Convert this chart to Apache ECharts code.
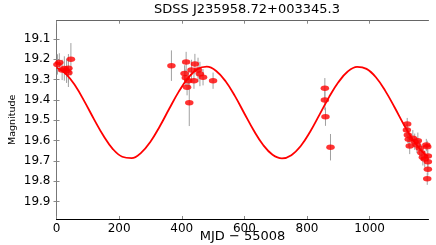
<!DOCTYPE html>
<html>
<head>
<meta charset="utf-8">
<script src="https://cdn.jsdelivr.net/npm/echarts@6/dist/echarts.min.js"></script>
<style>html,body{margin:0;padding:0;background:#fff;}#c{width:436px;height:245px;}</style>
</head>
<body>
<div id="c"></div>
<script>
// Observations
const obsMjd = [3, 9, 18, 25, 32, 38, 38, 46,
  367, 409, 413, 414, 417, 421, 424, 431, 439, 442, 452, 458, 468, 500,
  857, 857, 859, 875,
  1120, 1119, 1122, 1125, 1128, 1138, 1144, 1151, 1154, 1160, 1165, 1170, 1176, 1181, 1184, 1186, 1186, 1186, 1184];
const obsMag = [19.225, 19.215, 19.252, 19.245, 19.256, 19.244, 19.266, 19.200,
  19.231, 19.269, 19.290, 19.213, 19.337, 19.305, 19.413, 19.252, 19.305, 19.223, 19.252, 19.272, 19.288, 19.305,
  19.342, 19.400, 19.482, 19.632,
  19.518, 19.547, 19.572, 19.593, 19.626, 19.588, 19.605, 19.621, 19.600, 19.637, 19.659, 19.682, 19.690, 19.621, 19.630, 19.675, 19.703, 19.741, 19.787];
const obsErr = [0.05, 0.045, 0.05, 0.06, 0.06, 0.07, 0.07, 0.08,
  0.075, 0.04, 0.04, 0.05, 0.04, 0.045, 0.115, 0.05, 0.04, 0.05, 0.06, 0.06, 0.04, 0.04,
  0.05, 0.05, 0.045, 0.065,
  0.03, 0.03, 0.04, 0.04, 0.04, 0.04, 0.04, 0.04, 0.04, 0.04, 0.04, 0.04, 0.04, 0.03, 0.03, 0.03, 0.03, 0.03, 0.03];
// Model curve
const curveMjd = [0, 30, 60, 90, 120, 150, 180, 210, 240, 270, 300, 330, 360, 390, 420, 450, 480, 510, 540, 570, 600, 630, 660, 690, 720, 750, 780, 810, 840, 870, 900, 930, 960, 990, 1020, 1050, 1080, 1110, 1140, 1170, 1186];
const curveMag = [19.240, 19.271, 19.330, 19.409, 19.495, 19.576, 19.641, 19.679, 19.686, 19.660, 19.605, 19.529, 19.443, 19.360, 19.292, 19.248, 19.236, 19.257, 19.308, 19.381, 19.466, 19.550, 19.621, 19.669, 19.687, 19.671, 19.626, 19.556, 19.472, 19.387, 19.313, 19.260, 19.237, 19.247, 19.288, 19.355, 19.437, 19.523, 19.600, 19.657, 19.676];
// Ticks
const xTicks = [0, 200, 400, 600, 800, 1000];
const yTicks = [19.1, 19.2, 19.3, 19.4, 19.5, 19.6, 19.7, 19.8, 19.9];
const titleText = 'SDSS J235958.72+003345.3';
const xName = 'MJD \u2212 55008';
const yName = 'Magnitude';

const chart = echarts.init(document.getElementById('c'), null, {renderer: 'canvas'});
const FONT = 'DejaVu Sans';
const xMin = 0, xMax = 1188, yMin = 19.01, yMax = 19.985;

const errData = obsMjd.map((m, i) => [m, obsMag[i] - obsErr[i], obsMag[i] + obsErr[i]]);
const ptData = obsMjd.map((m, i) => [m, obsMag[i]]);
const curveData = curveMjd.map((m, i) => [m, curveMag[i]]);

const xCommon = {type: 'value', min: xMin, max: xMax, splitLine: {show: false}};
const yCommon = {type: 'value', min: yMin, max: yMax, inverse: true, splitLine: {show: false}};

chart.setOption({
  animation: false,
  backgroundColor: '#fff',
  title: {
    text: titleText, left: 242, top: -2, textAlign: 'center',
    textStyle: {fontFamily: FONT, fontSize: 13, fontWeight: 'normal', color: '#000'}
  },
  grid: {left: 56.5, right: 7.5, top: 20.7, bottom: 26, containLabel: false, outerBoundsMode: 'none'},
  xAxis: [
    Object.assign({}, xCommon, {
      position: 'bottom',
      axisLine: {show: true, lineStyle: {color: '#000', width: 1}},
      axisTick: {show: true, inside: true, length: 3, customValues: xTicks, lineStyle: {color: '#888'}},
      axisLabel: {show: true, customValues: xTicks, margin: 4, fontFamily: FONT, fontSize: 12, color: '#000',
        formatter: v => String(Math.round(v))},
      name: xName, nameLocation: 'middle', nameGap: 11, nameMoveOverlap: false,
      nameTextStyle: {fontFamily: FONT, fontSize: 13, color: '#000'}
    }),
    Object.assign({}, xCommon, {
      position: 'top',
      axisLine: {show: true, lineStyle: {color: '#666', width: 1}},
      axisTick: {show: true, inside: true, length: 3, customValues: xTicks, lineStyle: {color: '#888'}},
      axisLabel: {show: false}
    })
  ],
  yAxis: [
    Object.assign({}, yCommon, {
      position: 'left',
      axisLine: {show: true, lineStyle: {color: '#000', width: 1}},
      axisTick: {show: true, inside: true, length: 3, customValues: yTicks, lineStyle: {color: '#888'}},
      axisLabel: {show: true, customValues: yTicks, margin: 6, fontFamily: FONT, fontSize: 12, color: '#000',
        formatter: v => v.toFixed(1)},
      name: yName, nameLocation: 'middle', nameRotate: 90, nameGap: 39, nameMoveOverlap: false,
      nameTextStyle: {fontFamily: FONT, fontSize: 9.5, color: '#000'}
    }),
    Object.assign({}, yCommon, {
      position: 'right',
      axisLine: {show: true, lineStyle: {color: '#777', width: 1}},
      axisTick: {show: true, inside: true, length: 3, customValues: yTicks, lineStyle: {color: '#888'}},
      axisLabel: {show: false}
    })
  ],
  series: [
    {
      type: 'custom', xAxisIndex: 0, yAxisIndex: 0, data: errData, z: 1,
      encode: {x: 0, y: [1, 2]},
      renderItem: function (params, api) {
        const p1 = api.coord([api.value(0), api.value(1)]);
        const p2 = api.coord([api.value(0), api.value(2)]);
        return {type: 'line', shape: {x1: p1[0], y1: p1[1], x2: p2[0], y2: p2[1]},
          style: {stroke: '#a0a0a0', lineWidth: 1}};
      }
    },
    {
      type: 'line', xAxisIndex: 0, yAxisIndex: 0, data: curveData, smooth: 0.4,
      showSymbol: false, z: 2, lineStyle: {color: '#ff0000', width: 1.8}, itemStyle: {color: '#ff0000'}
    },
    {
      type: 'scatter', xAxisIndex: 0, yAxisIndex: 0, data: ptData, z: 3,
      symbol: 'circle', symbolSize: [8.5, 5.5], itemStyle: {color: '#ff0000'}
    }
  ]
});
</script>
</body>
</html>
